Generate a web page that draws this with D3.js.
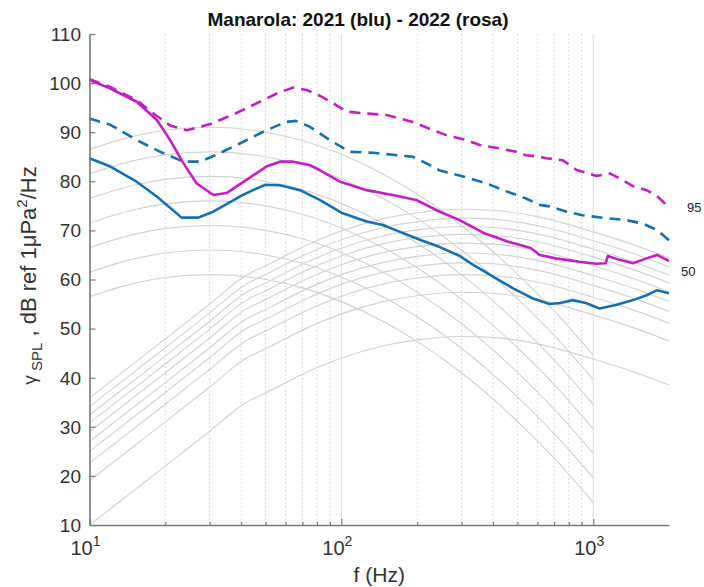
<!DOCTYPE html>
<html><head><meta charset="utf-8">
<script src="https://cdn.jsdelivr.net/npm/d3@7"></script>
<style>body{margin:0;background:#fff}svg{display:block}</style>
</head><body><svg id="c" width="704" height="587"></svg>
<script>
// ---------- data ----------
const chartTitle = "Manarola: 2021 (blu) - 2022 (rosa)";
const xMajorTicks = [10, 100, 1000];
const xMajorExp = ["1", "2", "3"];
const xMinorTicks = [20,30,40,50,60,70,80,90,200,300,400,500,600,700,800,900];
const yTicks = [10,20,30,40,50,60,70,80,90,100,110];
const percentileLabels = ["95", "50"];

// background: shipping-traffic curves
const shipFreqs = [10,15,20,30,50,70,100,150,200,300,500,700,1000];
const shipCurves = [
  [86.5,89.2,90.4,91.0,90.0,88.3,85.5,81.2,77.4,71.0,61.1,53.6,44.6],
  [81.5,84.2,85.4,86.0,85.0,83.3,80.5,76.2,72.4,66.0,56.1,48.6,39.6],
  [76.5,79.2,80.4,81.0,80.0,78.3,75.5,71.2,67.4,61.0,51.1,43.6,34.6],
  [71.5,74.2,75.4,76.0,75.0,73.3,70.5,66.2,62.4,56.0,46.1,38.6,29.6],
  [66.5,69.2,70.4,71.0,70.0,68.3,65.5,61.2,57.4,51.0,41.1,33.6,24.6],
  [61.5,64.2,65.4,66.0,65.0,63.3,60.5,56.2,52.4,46.0,36.1,28.6,19.6],
  [56.5,59.2,60.4,61.0,60.0,58.3,55.5,51.2,47.4,41.0,31.1,23.6,14.6]
];
// background: wind / sea-state curves
const windFreqs = [10,20,30,42,50,75,100,150,200,300,400,600,1000,1500,2000];
const windCurves = [
  [10,22.0,29.1,35.0,36.9,41.4,44.0,46.6,47.7,48.4,48.2,46.9,43.8,40.9,38.5],
  [19,31.0,38.1,44.0,45.9,50.4,53.0,55.6,56.7,57.4,57.2,55.9,52.8,49.9,47.5],
  [22.6,34.6,41.7,47.6,49.5,54.0,56.6,59.2,60.3,61.0,60.8,59.5,56.4,53.5,51.1],
  [25,37.0,44.1,50.0,51.9,56.4,59.0,61.6,62.7,63.4,63.2,61.9,58.8,55.9,53.5],
  [27,39.0,46.1,52.0,53.9,58.4,61.0,63.6,64.7,65.4,65.2,63.9,60.8,57.9,55.5],
  [29,41.0,48.1,54.0,55.9,60.4,63.0,65.6,66.7,67.4,67.2,65.9,62.8,59.9,57.5],
  [30.8,42.8,49.9,55.8,57.7,62.2,64.8,67.4,68.5,69.2,69.0,67.7,64.6,61.7,59.3],
  [32.4,44.4,51.5,57.4,59.3,63.8,66.4,69.0,70.1,70.8,70.6,69.3,66.2,63.3,60.9],
  [34.1,46.1,53.2,59.1,61.0,65.5,68.1,70.7,71.8,72.5,72.3,71.0,67.9,65.0,62.6],
  [35.9,47.9,55.0,60.9,62.8,67.3,69.9,72.5,73.6,74.3,74.1,72.8,69.7,66.8,64.4]
];

// measured spectra [f (Hz), dB]
const blu50 = [[10,84.7],[12.1,83.0],[15.2,80.1],[18.5,76.9],[21,74.5],[23.2,72.6],[27,72.6],[31,73.8],
  [39.5,76.9],[45,78.3],[50,79.3],[57,79.2],[68.5,78.2],[82,76.2],[100,73.6],[126,71.8],[146,71.1],
  [171,69.7],[205,68.1],[246,66.6],[295,64.8],[333,63.0],[360,62.0],[400,60.6],[481,58.2],[573,56.2],
  [670,55.0],[740,55.2],[829,55.8],[935,55.2],[1060,54.1],[1230,54.8],[1440,55.8],[1630,56.8],
  [1790,57.8],[2000,57.2]];
const blu95 = [[10,92.8],[12.1,91.5],[15.4,88.4],[19.1,86.0],[23.6,84.0],[27.5,84.0],[31.9,85.4],
  [39.5,87.7],[50.4,90.4],[60.5,92.1],[66,92.3],[75,91.1],[90,88.4],[108,86.0],[134,85.8],[160,85.4],
  [192,85.0],[217,83.7],[246,82.2],[313,80.8],[376,79.6],[450,78.0],[541,76.5],[613,75.2],[670,74.9],
  [786,73.8],[907,73.1],[1120,72.5],[1350,72.1],[1570,71.4],[1790,70.1],[2000,68.0]];
const rosa50 = [[10,100.6],[12.1,98.9],[15.4,96.2],[18.5,92.5],[20.9,88.4],[23.6,83.7],[26.6,79.6],
  [31,77.2],[35,77.6],[42,80.3],[50.4,83.0],[57,84.0],[64.4,84.0],[75,83.3],[82,82.3],[99,79.9],
  [126,78.2],[160,77.2],[198,76.2],[246,73.8],[295,72.1],[370,69.4],[460,67.7],[565,66.4],[613,65.0],
  [709,64.3],[880,63.6],[1030,63.2],[1120,63.3],[1144,64.8],[1273,64.0],[1440,63.3],[1630,64.3],
  [1790,65.0],[2000,63.8]];
const rosa95 = [[10,100.8],[12.1,99.2],[15.4,96.5],[18.5,93.3],[21,91.3],[24.3,90.4],[30,91.6],
  [38,93.8],[47.5,96.2],[56,98.0],[64.4,99.1],[72.8,98.6],[83,97.3],[92.8,95.9],[104.8,94.2],
  [125.6,93.8],[151,93.5],[192,92.1],[231,90.4],[261,89.4],[313,88.4],[354,87.4],[425,86.7],
  [494,86.0],[541,85.3],[613,85.0],[650,84.7],[756,84.3],[860,82.3],[1000,81.3],[1030,81.1],
  [1163,81.6],[1273,80.6],[1440,79.0],[1630,78.2],[1790,77.0],[1900,75.8],[2000,74.3]];

// ---------- drawing ----------
const svg = d3.select("#c");
const L = 89.5, R = 669, T = 34, B = 525;
const x = d3.scaleLog().domain([10, 2000]).range([L, R]);
const y = d3.scaleLinear().domain([10, 110]).range([B, T]);
const FONT = "'Liberation Sans', Arial, Helvetica, sans-serif";
const BLUE = "#1670b0", ROSA = "#c21fc4", GRAY = "#d2d2d2";

// grid
svg.append("g").selectAll("line").data(xMinorTicks).join("line")
  .attr("x1", d => x(d)).attr("x2", d => x(d)).attr("y1", T).attr("y2", B)
  .attr("stroke", "#d0d0d0").attr("stroke-width", 1).attr("stroke-dasharray", "1.5,2.5");
svg.append("g").selectAll("line").data([100, 1000]).join("line")
  .attr("x1", d => x(d)).attr("x2", d => x(d)).attr("y1", T).attr("y2", B)
  .attr("stroke", "#dcdcdc").attr("stroke-width", 1);

const line = d3.line().x(d => x(d[0])).y(d => y(d[1]));
const smooth = d3.line().x(d => x(d[0])).y(d => y(d[1])).curve(d3.curveMonotoneX);

// background curves
const gb = svg.append("g").attr("fill", "none").attr("stroke", GRAY).attr("stroke-width", 1.15);
shipCurves.forEach(c => gb.append("path").attr("d", smooth(c.map((v, i) => [shipFreqs[i], v]))));
windCurves.forEach(c => gb.append("path").attr("d", smooth(c.map((v, i) => [windFreqs[i], v]))));

// spectra
const series = [
  {d: blu50, c: BLUE, dash: null},
  {d: blu95, c: BLUE, dash: "11,7"},
  {d: rosa50, c: ROSA, dash: null},
  {d: rosa95, c: ROSA, dash: "11,7"}
];
series.forEach(s => {
  svg.append("path").attr("d", line(s.d)).attr("fill", "none")
    .attr("stroke", s.c).attr("stroke-width", 2.6).attr("stroke-linejoin", "round")
    .attr("stroke-dasharray", s.dash);
});

// axes
const axCol = "#7a7a7a";
const gy = svg.append("g").attr("transform", `translate(${L},0)`)
  .call(d3.axisLeft(y).tickValues(yTicks).tickSizeInner(-6).tickSizeOuter(0).tickFormat(""));
const gx = svg.append("g").attr("transform", `translate(0,${B})`)
  .call(d3.axisBottom(x).tickValues(xMajorTicks).tickSizeInner(-6).tickSizeOuter(0).tickFormat(""));
const gx2 = svg.append("g").attr("transform", `translate(0,${B})`)
  .call(d3.axisBottom(x).tickValues(xMinorTicks).tickSizeInner(-3).tickSizeOuter(0).tickFormat(""));
gx2.select(".domain").remove();
[gy, gx, gx2].forEach(g => {
  g.select(".domain").attr("stroke", axCol).attr("stroke-width", 1.6);
  g.selectAll(".tick line").attr("stroke", axCol).attr("stroke-width", 1.2);
});

// y tick labels
svg.append("g").selectAll("text").data(yTicks).join("text")
  .attr("x", L - 8.5).attr("y", d => y(d)).attr("dy", "0.36em")
  .attr("text-anchor", "end").attr("font-family", FONT).attr("font-size", 19)
  .attr("fill", "#333").text(d => d);

// x tick labels with exponents
const xt = svg.append("g").selectAll("text").data(xMajorTicks).join("text")
  .attr("x", d => x(d) - 4).attr("y", 555).attr("text-anchor", "middle")
  .attr("font-family", FONT).attr("font-size", 20).attr("fill", "#333");
xt.append("tspan").text("10");
xt.append("tspan").attr("dy", -9).attr("font-size", 14).text((d, i) => xMajorExp[i]);

// title
svg.append("text").attr("x", 358).attr("y", 26).attr("text-anchor", "middle")
  .attr("font-family", FONT).attr("font-weight", "bold").attr("font-size", 19).attr("fill", "#111")
  .text(chartTitle);

// x label
svg.append("text").attr("x", (L + R) / 2).attr("y", 582).attr("text-anchor", "middle")
  .attr("font-family", FONT).attr("font-size", 21).attr("fill", "#333").text("f (Hz)");

// y label
const yl = svg.append("text").attr("transform", `translate(36,${(T + B) / 2 - 4}) rotate(-90)`)
  .attr("text-anchor", "middle").attr("font-family", FONT).attr("font-size", 22).attr("fill", "#333");
yl.append("tspan").attr("font-size", 19).text("γ");
yl.append("tspan").attr("dy", 6).attr("font-size", 15).text(" SPL");
yl.append("tspan").attr("dy", -6).text(" , dB ref 1μPa");
yl.append("tspan").attr("dy", -9).attr("font-size", 15).text("2");
yl.append("tspan").attr("dy", 9).text("/Hz");

// percentile labels
svg.append("g").selectAll("text").data(percentileLabels).join("text")
  .attr("x", (d, i) => i === 0 ? 687 : 681)
  .attr("y", (d, i) => i === 0 ? 212 : 276)
  .attr("font-family", FONT).attr("font-size", 13).attr("fill", "#222").text(d => d);
</script></body></html>
